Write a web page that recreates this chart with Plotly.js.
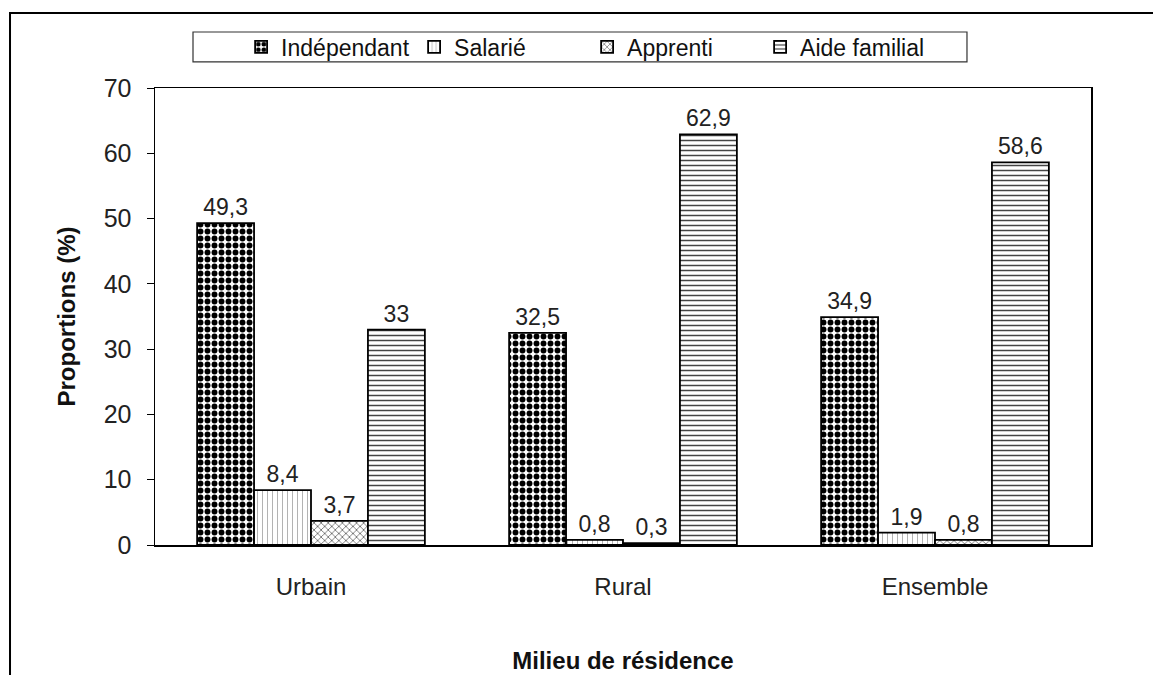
<!DOCTYPE html>
<html>
<head>
<meta charset="utf-8">
<script src="https://cdn.plot.ly/plotly-3.0.1.min.js"></script>
<style>html,body{margin:0;padding:0;background:#fff;}#chart{width:1153px;height:675px;}</style>
</head>
<body>
<div id="chart"></div>
<script>
const categories = ["Urbain", "Rural", "Ensemble"];
const seriesNames = ["Indépendant", "Salarié", "Apprenti", "Aide familial"];
const independant = [49.3, 32.5, 34.9];
const salarie = [8.4, 0.8, 1.9];
const apprenti = [3.7, 0.3, 0.8];
const aideFamilial = [33, 62.9, 58.6];
const yTicks = [0, 10, 20, 30, 40, 50, 60, 70];

const FONT = "Liberation Sans, Arial, sans-serif";
const patterns = [
  {shape: ".", fgcolor: "#000", bgcolor: "#fff", size: 7, solidity: 0.55, fillmode: "replace"},
  {shape: "|", fgcolor: "#999", bgcolor: "#fff", size: 5, solidity: 0.15, fillmode: "replace"},
  {shape: "x", fgcolor: "#666", bgcolor: "#fff", size: 5, solidity: 0.3, fillmode: "replace"},
  {shape: "-", fgcolor: "#444", bgcolor: "#fff", size: 5, solidity: 0.3, fillmode: "replace"}
];
const values = [independant, salarie, apprenti, aideFamilial];

const traces = values.map((v, i) => ({
  type: "bar",
  name: seriesNames[i],
  x: categories,
  y: v,
  text: v.map(n => String(n).replace(".", ",")),
  textposition: "outside",
  cliponaxis: false,
  textfont: {family: FONT, size: 23, color: "#222"},
  marker: {color: "#fff", line: {color: "#000", width: 1.8}, pattern: patterns[i]},
  hoverinfo: "skip"
}));

const layout = {
  width: 1153, height: 675,
  margin: {l: 155, r: 62, t: 88, b: 130},
  paper_bgcolor: "#fff", plot_bgcolor: "#fff",
  font: {family: FONT, size: 24, color: "#222"},
  separators: ", ",
  barmode: "group",
  bargap: 0.27,
  bargroupgap: 0,
  showlegend: true,
  legend: {
    orientation: "h",
    x: 0.092, xanchor: "left",
    y: 1.0897, yanchor: "middle",
    font: {family: FONT, size: 23, color: "#111"},
    itemwidth: 30,
    entrywidth: 128,
    bgcolor: "rgba(0,0,0,0)",
    borderwidth: 0,
    traceorder: "normal"
  },
  xaxis: {
    type: "category",
    showline: true, linecolor: "#000", linewidth: 1.5, mirror: true,
    ticks: "", showgrid: false, zeroline: false,
    ticklabelstandoff: 20,
    tickfont: {family: FONT, size: 24, color: "#222"},
    title: {text: "<b>Milieu de résidence</b>", font: {family: FONT, size: 24, color: "#111"}, standoff: 53}
  },
  yaxis: {
    range: [0, 70], tickvals: yTicks,
    showline: true, linecolor: "#000", linewidth: 1.5, mirror: true,
    ticks: "outside", ticklen: 7, tickcolor: "#000", tickwidth: 1,
    ticklabelstandoff: 10,
    showgrid: false, zeroline: false,
    tickfont: {family: FONT, size: 25, color: "#222"},
    title: {text: "<b>Proportions (%)</b>", font: {family: FONT, size: 24, color: "#111"}, standoff: 21}
  },
  shapes: [
    {type: "rect", xref: "paper", yref: "paper", x0: -0.1549, x1: 1.08, y0: -0.31, y1: 1.1641,
     line: {color: "#000", width: 2}, fillcolor: "rgba(0,0,0,0)", layer: "below"},
    {type: "rect", xref: "paper", yref: "paper", x0: 0.0406, x1: 0.8675, y0: 1.057, y1: 1.1225,
     line: {color: "#333", width: 1.2}, fillcolor: "rgba(0,0,0,0)", layer: "below"}
  ]
};

Plotly.newPlot("chart", traces, layout, {displayModeBar: false, staticPlot: true});
</script>
</body>
</html>
